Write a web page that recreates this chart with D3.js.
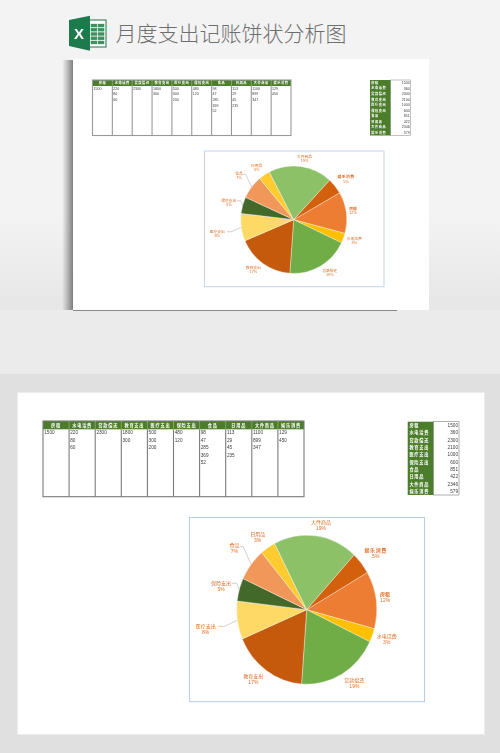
<!DOCTYPE html>
<html lang="zh">
<head>
<meta charset="utf-8">
<title>月度支出记账饼状分析图</title>
<script src="https://cdn.jsdelivr.net/npm/d3@7/dist/d3.min.js"></script>
<style>
html,body{margin:0;padding:0;background:#e0e0e0;overflow:hidden}
svg{display:block}
text{font-family:"Noto Sans CJK SC","Liberation Sans",sans-serif}
.num{font-family:"Liberation Sans","Noto Sans CJK SC",sans-serif}
</style>
</head>
<body>
<svg id="c" width="500" height="753" viewBox="0 0 500 753"></svg>
<script>
// ---- data ----
const titleText = "月度支出记账饼状分析图";
const categories = ["房租","水电话费","贷款偿还","教育支出","医疗支出","保险支出","食品","日用品","大件商品","娱乐消费"];
const totals = [1500,360,2300,2100,1000,600,851,422,2346,579];
const rentItems = [1500];
const utilityItems = [220,80,60];
const loanItems = [2300];
const educationItems = [1800,300];
const medicalItems = [500,300,200];
const insuranceItems = [480,120];
const foodItems = [98,47,285,369,52];
const dailyItems = [113,29,45,235];
const durableItems = [1100,899,347];
const leisureItems = [129,450];
const detailColumns = [rentItems,utilityItems,loanItems,educationItems,medicalItems,insuranceItems,foodItems,dailyItems,durableItems,leisureItems];

// ---- styles and layout ----
const sliceColors = ["#ED7D31","#FFC000","#70AD47","#C55A11","#FFD966","#43682B","#F1975A","#FFCB2E","#8CC168","#D2600F"];
// label centres, in pie radii from the pie centre
const labelOffsets = [[1.12,-.206],[1.143,.35],[.681,.943],[-.762,.888],[-1.443,.215],[-1.224,-.359],[-1.033,-.861],[-.7,-1.009],[.205,-1.175],[.986,-.798]];
// leader lines (label end, elbow), in pie radii; the far end sits on the slice's rim
const leaders = {4:[[-1.262,.224],[-1.176,.224]],5:[[-1.071,-.354],[-1,-.354]],6:[[-.952,-.852],[-.905,-.843]]};
const FIRST_SLICE = 60*Math.PI/180;
const GREEN = "#4C7D2C", ORANGE = "#DF6F26", INK = "#404040";

const panels = [
 {blur:.3,
  table:{x0:92.5,x1:291,y0:80,head:86,y1:135.5,step:5.6,font:3.6,hfont:3.2,stroke:"#999999"},
  side:{x0:370,split:390.5,x1:410.5,y0:80,y1:135.5,font:3.6,hfont:3.2},
  frame:{x0:204.5,x1:384,y0:151,y1:286.7,stroke:"#c9d6ef"},
  pie:{cx:293.7,cy:219.7,rx:53,ry:53.7},label:{font:3.8,gap:4.3}},
 {blur:.25,
  table:{x0:43,x1:304,y0:421,head:429.3,y1:496.7,step:7.5,font:4.7,hfont:4.2,stroke:"#7a7a7a"},
  side:{x0:407.7,split:433.3,x1:459,y0:421.7,y1:495,font:4.7,hfont:4.2},
  frame:{x0:189.5,x1:424.5,y0:517.5,y1:701.7,stroke:"#bccceb"},
  pie:{cx:306.7,cy:609.7,rx:70,ry:74.5},label:{font:5,gap:6}}
];

const svg = d3.select("#c");
const defs = svg.append("defs");

// ---- backdrop ----
const bandY = defs.append("linearGradient").attr("id","bgTop").attr("x1",0).attr("x2",0).attr("y1",0).attr("y2",1);
bandY.append("stop").attr("offset","0.7").attr("stop-color","#f3f3f3");
bandY.append("stop").attr("offset","1").attr("stop-color","#e6e6e6");
const shadow = defs.append("linearGradient").attr("id","shadowL");
shadow.append("stop").attr("offset","0").attr("stop-color","#777").attr("stop-opacity",0);
shadow.append("stop").attr("offset","1").attr("stop-color","#6a6a6a").attr("stop-opacity",.85);
defs.selectAll("filter").data(panels).join("filter")
  .attr("id",(d,i)=>"soft"+i).attr("x","-5%").attr("y","-5%").attr("width","110%").attr("height","110%")
  .append("feGaussianBlur").attr("stdDeviation",d=>d.blur);
defs.append("filter").attr("id","softer").append("feGaussianBlur").attr("stdDeviation",.6);

svg.append("rect").attr("width",500).attr("height",310).attr("fill","url(#bgTop)");
svg.append("rect").attr("y",310).attr("width",500).attr("height",64).attr("fill","#ebebeb");
svg.append("rect").attr("y",374).attr("width",500).attr("height",379).attr("fill","#e0e0e0");
// top sheet with its shadow
svg.append("rect").attr("x",62).attr("y",60).attr("width",11).attr("height",250).attr("fill","url(#shadowL)");
svg.append("rect").attr("x",73).attr("y",309.6).attr("width",324).attr("height",1.4).attr("fill","#8a8a8a").attr("filter","url(#softer)");
svg.append("rect").attr("x",73).attr("y",59).attr("width",356).attr("height",251).attr("fill","#fff");
// bottom sheet
svg.append("rect").attr("x",17.5).attr("y",392.5).attr("width",467).attr("height",342).attr("fill","#fff").attr("stroke","#ececec");

// ---- heading ----
const icon = svg.append("g").attr("filter","url(#soft0)");
icon.append("rect").attr("x",88).attr("y",20).attr("width",18).attr("height",27).attr("fill","#fff").attr("stroke","#217346").attr("stroke-width",1);
const iconGridX = d3.scaleBand().domain(d3.range(2)).range([90,105]).padding(.1);
const iconGridY = d3.scaleBand().domain(d3.range(5)).range([23,45]).padding(.2);
iconGridX.domain().forEach(c=>iconGridY.domain().forEach(r=>{
  icon.append("rect").attr("x",iconGridX(c)).attr("y",iconGridY(r)).attr("width",iconGridX.bandwidth()).attr("height",iconGridY.bandwidth()).attr("fill","#3f8f5f");
}));
icon.append("path").attr("d","M69,20L90,15.7L90,50.7L69,46Z").attr("fill","#1F7A4D");
icon.append("text").attr("x",79).attr("y",38.5).attr("text-anchor","middle").attr("fill","#fff")
  .style("font-family","'Liberation Sans',sans-serif").attr("font-weight","bold").attr("font-size",15).text("X");
svg.append("text").attr("x",115.5).attr("y",40.5).attr("font-size",21).attr("fill","#6e6e6e").attr("font-weight",300).text(titleText);

// ---- panels ----
panels.forEach((p,i)=>{
  const g = svg.append("g").attr("filter",`url(#soft${i})`);

  // detail table
  const t = p.table;
  const x = d3.scaleBand().domain(categories).range([t.x0,t.x1]);
  const rowY = d3.scaleLinear().domain([0,1]).range([t.head+(t.step*.45),t.head+(t.step*1.45)]);
  const tb = g.append("g");
  tb.append("rect").attr("x",t.x0).attr("y",t.y0).attr("width",t.x1-t.x0).attr("height",t.head-t.y0).attr("fill",GREEN);
  tb.selectAll("line.col").data(categories.slice(1)).join("line").attr("class","col")
    .attr("x1",d=>x(d)).attr("x2",d=>x(d)).attr("y1",t.head).attr("y2",t.y1).attr("stroke",t.stroke).attr("stroke-width",1.1);
  tb.append("rect").attr("x",t.x0).attr("y",t.y0).attr("width",t.x1-t.x0).attr("height",t.y1-t.y0)
    .attr("fill","none").attr("stroke",t.stroke).attr("stroke-width",1.1);
  tb.selectAll("line.div").data(categories.slice(1)).join("line").attr("class","div")
    .attr("x1",d=>x(d)).attr("x2",d=>x(d)).attr("y1",t.y0).attr("y2",t.head).attr("stroke","#cfe0c0").attr("stroke-width",.4);
  tb.selectAll("text.h").data(categories).join("text").attr("class","h")
    .attr("x",d=>x(d)+x.bandwidth()/2).attr("y",(t.y0+t.head)/2).attr("dy",".36em").attr("text-anchor","middle")
    .attr("font-size",t.hfont).attr("letter-spacing",t.hfont*.18).attr("font-weight","bold").attr("fill","#fff").text(d=>d);
  detailColumns.forEach((col,c)=>{
    tb.selectAll(null).data(col).join("text").attr("class","num")
      .attr("x",x(categories[c])+t.font*.25).attr("y",(d,r)=>rowY(r)).attr("dy",".36em")
      .attr("font-size",t.font).attr("fill",INK).text(d=>d);
  });

  // totals table
  const s = p.side;
  const y = d3.scaleBand().domain(categories).range([s.y0,s.y1]);
  const sb = g.append("g");
  sb.append("rect").attr("x",s.split).attr("y",s.y0).attr("width",s.x1-s.split).attr("height",s.y1-s.y0)
    .attr("fill","#fff").attr("stroke",t.stroke).attr("stroke-width",.6);
  sb.append("rect").attr("x",s.x0).attr("y",s.y0).attr("width",s.split-s.x0).attr("height",s.y1-s.y0).attr("fill",GREEN);
  sb.selectAll("text.k").data(categories).join("text").attr("class","k")
    .attr("x",s.x0+s.hfont*.4).attr("y",d=>y(d)+y.bandwidth()/2).attr("dy",".36em")
    .attr("font-size",s.hfont).attr("letter-spacing",s.hfont*.18).attr("font-weight","bold").attr("fill","#fff").text(d=>d);
  sb.selectAll("text.v").data(totals).join("text").attr("class","v num")
    .attr("x",s.x1-s.font*.2).attr("y",(d,k)=>y(categories[k])+y.bandwidth()/2).attr("dy",".36em")
    .attr("text-anchor","end").attr("font-size",s.font).attr("fill",INK).text(d=>d);

  // chart frame
  const f = p.frame;
  g.append("rect").attr("x",f.x0).attr("y",f.y0).attr("width",f.x1-f.x0).attr("height",f.y1-f.y0)
    .attr("fill","#fff").attr("stroke",f.stroke).attr("stroke-width",1.1);

  // pie
  const q = p.pie, k = q.ry/q.rx;
  const total = d3.sum(totals);
  const slices = d3.pie().sort(null).startAngle(FIRST_SLICE).endAngle(FIRST_SLICE+2*Math.PI)(totals);
  const arc = d3.arc().innerRadius(0).outerRadius(q.rx);
  const rim = d3.arc().innerRadius(q.rx).outerRadius(q.rx);
  const pg = g.append("g").attr("transform",`translate(${q.cx},${q.cy}) scale(1,${k})`);
  pg.selectAll("path").data(slices).join("path")
    .attr("d",arc).attr("fill",(d,n)=>sliceColors[n]).attr("stroke","#fff").attr("stroke-width",.35);

  // leader lines
  const toPx = ([a,b])=>[q.cx+a*q.rx,q.cy+b*q.ry];
  const line = d3.line();
  g.selectAll("path.leader").data(Object.keys(leaders)).join("path").attr("class","leader")
    .attr("fill","none").attr("stroke","#bdbdbd").attr("stroke-width",.7)
    .attr("d",n=>{
      const [ax,ay]=rim.centroid(slices[n]);
      return line([...leaders[n].map(toPx),[q.cx+ax,q.cy+ay*k]]);
    });

  // slice labels
  const lb = g.selectAll("g.lab").data(slices).join("g").attr("class","lab")
    .attr("transform",(d,n)=>{const [a,b]=toPx(labelOffsets[n]);return `translate(${a},${b})`;});
  lb.append("text").attr("text-anchor","middle").attr("dy",".36em").attr("font-size",p.label.font).attr("fill",ORANGE)
    .attr("font-weight",(d,n)=>n===9||n===0?"bold":null)
    .attr("letter-spacing",(d,n)=>n===9?p.label.font*.12:null)
    .text((d,n)=>categories[n]);
  lb.append("text").attr("class","num").attr("text-anchor","middle").attr("y",p.label.gap).attr("dy",".36em")
    .attr("font-size",p.label.font).attr("fill",ORANGE).text(d=>d3.format(".0%")(d.value/total));
});
</script>
</body>
</html>
